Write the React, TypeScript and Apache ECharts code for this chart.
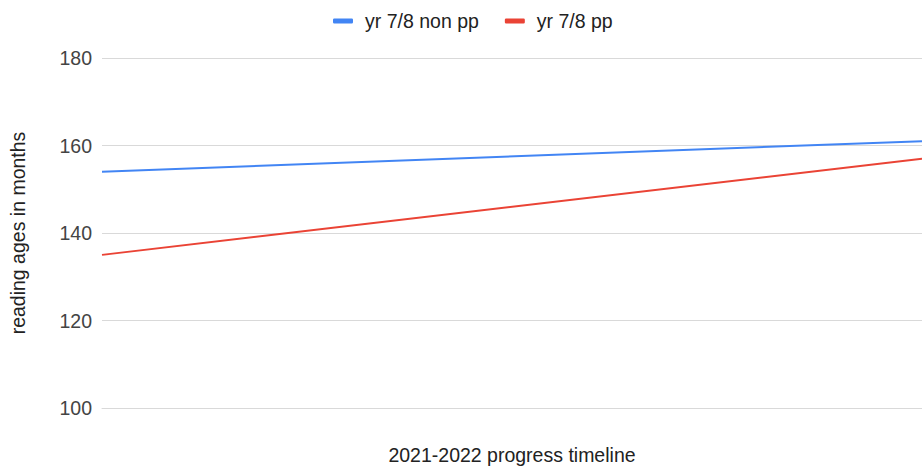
import React, { useEffect, useRef } from "react";
import * as echarts from "echarts";

const categories = ["start", "end"];
const nonPP = [154, 161];
const pp = [135, 157];
const seriesNames = ["yr 7/8 non pp", "yr 7/8 pp"];
const yTitle = "reading ages in months";
const xTitle = "2021-2022 progress timeline";

export default function App() {
  const ref = useRef<HTMLDivElement>(null);
  useEffect(() => {
    const chart = echarts.init(ref.current!, null, { renderer: "svg" });
    const font = "'Liberation Sans', Arial, sans-serif";
    const fs = 19.5;
    chart.setOption({
      animation: false,
      textStyle: { fontFamily: font },
      color: ["#4285F4", "#EA4335"],
      legend: {
        top: 6,
        left: 328,
        itemWidth: 20,
        itemHeight: 5,
        itemGap: 26,
        icon: "roundRect",
        textStyle: { fontSize: fs, color: "#222", fontFamily: font, padding: [0, 0, 0, 7] },
        data: seriesNames,
      },
      grid: { left: 102, right: 0, top: 58, bottom: 61, containLabel: false, outerBoundsMode: "none" },
      xAxis: {
        type: "category",
        data: categories,
        boundaryGap: false,
        name: xTitle,
        nameLocation: "middle",
        nameGap: 37,
        nameTextStyle: { fontSize: fs, color: "#222", fontFamily: font },
        axisLine: { show: true, lineStyle: { color: "#d9d9d9" } },
        axisTick: { show: false },
        axisLabel: { show: false },
        splitLine: { show: false },
      },
      yAxis: {
        type: "value",
        min: 100,
        max: 180,
        interval: 20,
        name: yTitle,
        nameLocation: "middle",
        nameGap: 74,
        nameRotate: 90,
        nameTextStyle: { fontSize: fs, color: "#222", fontFamily: font },
        axisLine: { show: false },
        axisTick: { show: false },
        axisLabel: { fontSize: fs, color: "#444", margin: 10, fontFamily: font },
        splitLine: { lineStyle: { color: "#d9d9d9", width: 1 } },
      },
      series: [
        {
          name: seriesNames[0],
          type: "line",
          data: nonPP,
          symbol: "none",
          lineStyle: { width: 2 },
        },
        {
          name: seriesNames[1],
          type: "line",
          data: pp,
          symbol: "none",
          lineStyle: { width: 2 },
        },
      ],
    });
    return () => chart.dispose();
  }, []);
  return (
    <div
      ref={ref}
      style={{ position: "fixed", left: 0, top: 0, width: 922, height: 469, background: "#fff" }}
    />
  );
}
